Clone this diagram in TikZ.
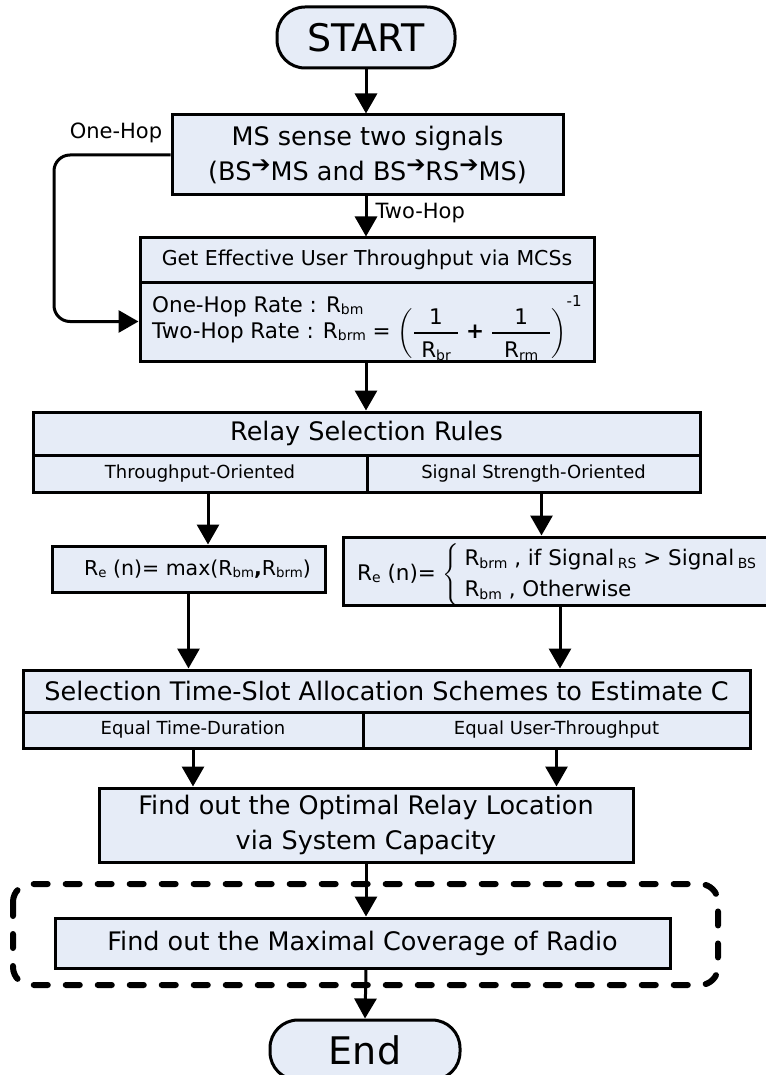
\documentclass[tikz,border=0pt]{standalone}
\usepackage{amsmath}
\usepackage{fontspec}
\setmainfont{DejaVu Sans}
\usetikzlibrary{arrows.meta}

\definecolor{boxfill}{RGB}{230,236,247}

\newcommand{\fsA}{\fontsize{38}{42}\selectfont}
\newcommand{\fsB}{\fontsize{25.5}{35}\selectfont}
\newcommand{\fsC}{\fontsize{20.5}{24}\selectfont}
\newcommand{\fsD}{\fontsize{21.5}{26}\selectfont}
\newcommand{\fsE}{\fontsize{18}{22}\selectfont}
\newcommand{\fsF}{\fontsize{21}{25}\selectfont}
\newcommand{\sub}[1]{\raisebox{-0.12em}{\scalebox{0.65}{#1}}}
\newcommand{\rarr}{\raisebox{0.3em}{\scalebox{0.9}{➔}}}
\newcommand{\hfr}[3]{\genfrac{}{}{2.5pt}{0}{\text{\makebox[#1]{#2}}}{\text{\makebox[#1]{#3}}}}

\tikzset{
  box/.style={draw, line width=3pt, fill=boxfill, inner sep=0pt, align=center},
  term/.style={draw, line width=3pt, fill=boxfill, rounded corners=28pt, inner sep=0pt, font=\fsA},
  arr/.style={line width=3pt, -{Triangle[length=20pt,width=22pt]}},
  dashframe/.style={line width=6pt, dash pattern=on 14pt off 18pt, line cap=round, rounded corners=18pt}
}

\begin{document}
\begin{tikzpicture}[x=1pt, y=-1pt]
\useasboundingbox (0,0) rectangle (765,1075);

% dashed frame round the last step
\draw[dashframe] (13,884) rectangle (718,985);

\node[term, minimum width=178pt, minimum height=61pt] (start) at (366,37.5) {START};

\node[box, font=\fsB, minimum width=391pt, minimum height=80pt] (sense) at (367.5,155)
  {MS sense two signals\\(BS\rarr MS and BS\rarr RS\rarr MS)};

\node[box, font=\fsC, minimum width=454pt, minimum height=44pt] (gethead) at (367,260)
  {Get Effective User Throughput via MCSs};
\node[box, minimum width=454pt, minimum height=79pt] (getbody) at (367,321.5) {};
\node[anchor=west, align=left, font=\fsD, inner sep=0pt] (rates) at (152,319.5)
  {One-Hop Rate : R\sub{bm}\\
   Two-Hop Rate : R\sub{brm} = \smash{$\left(\hfr{44pt}{1}{R\sub{br}}\ \text{\textbf{+}}\ \hfr{58pt}{1}{R\sub{rm}}\right)^{\text{\raisebox{7pt}{-1}}}$}};

\node[box, font=\fsB, minimum width=667pt, minimum height=43pt] (relay) at (366.5,433.5) {Relay Selection Rules};
\node[box, font=\fsE, minimum width=334pt, minimum height=37pt] (thr) at (200,473.5) {Throughput-Oriented};
\node[box, font=\fsE, minimum width=333pt, minimum height=37pt] (sig) at (533.5,473.5) {Signal Strength-Oriented};

\node[box, font=\fontsize{20.5}{26}\selectfont, minimum width=273pt, minimum height=46pt] (remax) at (188.5,569)
  {\hspace*{18pt}R\sub{e} (n)= max(R\sub{bm}\textbf{,}R\sub{brm})};
\node[box, minimum width=434pt, minimum height=68pt] (recase) at (560,571) {};
\node[anchor=base west, font=\fontsize{21.5}{31}\selectfont, inner sep=0pt] (caserule) at (357,580)
  {R\sub{e} (n)= $\left\{\begin{tabular}{@{\hspace{5pt}}l@{}}R\sub{brm} , if Signal\,\sub{RS} > Signal\,\sub{BS}\\
   R\sub{bm} , Otherwise\end{tabular}\right.$};

\node[box, font=\fsB, minimum width=727pt, minimum height=42pt] (slot) at (386.5,691)
  {Selection Time-Slot Allocation Schemes to Estimate C};
\node[box, font=\fsE, minimum width=340pt, minimum height=36pt] (eqtime) at (193,730) {Equal Time-Duration};
\node[box, font=\fsE, minimum width=387pt, minimum height=36pt] (equser) at (556.5,730) {Equal User-Throughput};

\node[box, font=\fsB, minimum width=534pt, minimum height=74pt] (optloc) at (366,825)
  {Find out the Optimal Relay Location\\via System Capacity};
\node[box, font=\fsB, minimum width=615pt, minimum height=50pt] (maxcov) at (362.5,943)
  {Find out the Maximal Coverage of Radio};

\node[term, minimum width=190pt, minimum height=60pt] (end) at (365,1050) {End};

\node[font=\fsF] (onehop) at (116,133) {One-Hop};
\node[font=\fsF, anchor=west] (twohop) at (372,213) {Two-Hop};

% connectors
\coordinate (bend) at (54,155);
\draw[arr] (start.south) -- (start.south |- sense.north);
\draw[arr, rounded corners=16pt] (sense.west) -- (bend) |- (getbody.west);
\draw[arr] (start.south |- sense.south) -- (start.south |- gethead.north);
\draw[arr] (start.south |- getbody.south) -- (start.south |- relay.north);
\draw[arr] ([xshift=8pt]thr.south) -- ([xshift=8pt]thr.south |- remax.north);
\draw[arr] ([xshift=8pt]sig.south) -- ([xshift=8pt]sig.south |- recase.north);
\draw[arr] (remax.south) -- (remax.south |- slot.north);
\draw[arr] (recase.south) -- (recase.south |- slot.north);
\draw[arr] (eqtime.south) -- (eqtime.south |- optloc.north);
\draw[arr] (equser.south) -- (equser.south |- optloc.north);
\draw[arr] (optloc.south) -- (optloc.south |- maxcov.north);
\draw[arr] (optloc.south |- maxcov.south) -- (end.north);
\end{tikzpicture}
\end{document}
